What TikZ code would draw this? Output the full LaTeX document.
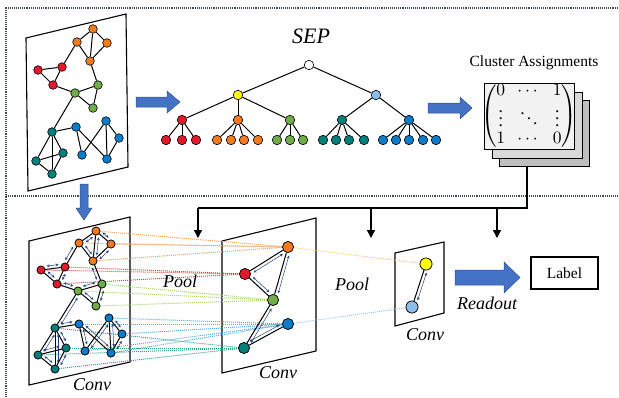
\documentclass[tikz,border=0pt]{standalone}
\usepackage{amsmath}
\usepackage{graphicx}
\usepackage{fontspec}
\setmainfont{Liberation Serif}
\usetikzlibrary{calc,arrows.meta}
\definecolor{cred}{HTML}{E41A2C}
\definecolor{corange}{HTML}{F37A1F}
\definecolor{cgreen}{HTML}{70AD47}
\definecolor{cteal}{HTML}{00807A}
\definecolor{cblue}{HTML}{0B7CCB}
\definecolor{cyellow}{HTML}{FFFF00}
\definecolor{clblue}{HTML}{8DBDE8}
\definecolor{barrow}{HTML}{4472C4}
\definecolor{barrowd}{HTML}{2F528F}
\definecolor{cnavy}{HTML}{24407F}
\definecolor{dorange}{HTML}{F5A05A}
\definecolor{dred}{HTML}{E8404A}
\definecolor{dgreen}{HTML}{A5D46A}
\definecolor{dblue}{HTML}{56A8E0}
\definecolor{dteal}{HTML}{2E9E96}
\definecolor{dyellow}{HTML}{F2D16B}
\definecolor{dlblue}{HTML}{9DC8EC}
\definecolor{card1}{HTML}{F2F2F2}
\definecolor{card2}{HTML}{D9D9D9}
\definecolor{card3}{HTML}{BFBFBF}
\definecolor{bord}{HTML}{404A55}
\tikzset{
 nd/.style={circle,draw=black,line width=0.6pt,inner sep=0pt,minimum size=8.6pt},
 sn/.style={nd,minimum size=8pt},
 mn/.style={nd,minimum size=11pt},
 tn/.style={nd,minimum size=9.5pt},
 edge/.style={line width=1pt,black},
 dar/.style={cnavy,line width=0.5pt,{Stealth[length=3pt,width=2.8pt]}-{Stealth[length=3pt,width=2.8pt]}},
 dl/.style={densely dotted,line width=1pt},
 panel/.style={line width=1.1pt},
 conn/.style={line width=1.3pt},
 barr/.style={fill=barrow,draw=barrowd,line width=0.5pt},
 lbl/.style={font=\fontsize{18}{20}\selectfont\itshape},
 card/.style={draw=black,line width=0.6pt,minimum width=90pt,minimum height=66pt,inner sep=0pt},
 brd/.style={bord,densely dotted,line width=1.1pt}
}
\newcommand\dlink[3][6pt]{\draw[edge] (#2) -- (#3); \draw[dar] ($(#2.center)!#1!(#3.center)!3.2pt!90:(#3.center)$) -- ($(#3.center)!#1!(#2.center)!3.2pt!-90:(#2.center)$);}
\begin{document}
\begin{tikzpicture}[x=1pt,y=-1pt]
\useasboundingbox (0,0) rectangle (619,397);
% borders
\draw[brd] (6,397) -- (6,8) -- (619,8);
\draw[brd] (6,196) -- (619,196);

% ---------- top-left graph ----------
\draw[panel] (26,38) -- (126,14) -- (128,167) -- (28,191) -- cycle;
\node[nd,fill=corange] (ao1) at (93,29) {};
\node[nd,fill=corange] (ao2) at (77,42) {};
\node[nd,fill=corange] (ao3) at (107,43) {};
\node[nd,fill=corange] (ao4) at (90,61) {};
\node[nd,fill=cred] (ar1) at (38,70) {};
\node[nd,fill=cred] (ar2) at (62,67) {};
\node[nd,fill=cred] (ar3) at (53,85) {};
\node[nd,fill=cgreen] (ag1) at (75,93) {};
\node[nd,fill=cgreen] (ag2) at (98,85) {};
\node[nd,fill=cgreen] (ag3) at (93,108) {};
\node[nd,fill=cteal] (at1) at (52,132) {};
\node[nd,fill=cteal] (at2) at (36,161) {};
\node[nd,fill=cteal] (at3) at (63,153) {};
\node[nd,fill=cteal] (at4) at (52,174) {};
\node[nd,fill=cblue] (ab1) at (76,127) {};
\node[nd,fill=cblue] (ab2) at (106,121) {};
\node[nd,fill=cblue] (ab3) at (119,138) {};
\node[nd,fill=cblue] (ab4) at (82,155) {};
\node[nd,fill=cblue] (ab5) at (107,159) {};
\foreach \a/\b in {ao1/ao2,ao1/ao3,ao1/ao4,ao2/ao4,ao3/ao4,ar2/ao2,ar1/ar2,ar1/ar3,ar2/ar3,
  ar3/ag1,ag1/ag2,ag1/ag3,ag2/ag3,ag2/ao4,ag1/at1,at1/at2,at1/at3,at1/at4,at2/at3,at2/at4,at3/at4,
  at1/ab1,ab1/ab4,ab1/ab5,ab2/ab4,ab2/ab5,ab2/ab3,ab3/ab5}
  \draw[edge] (\a) -- (\b);

% arrow to tree
\draw[barr] (136,97) -- (167,97) -- (167,91) -- (180,102) -- (167,113) -- (167,107) -- (136,107) -- cycle;

% ---------- tree ----------
\node[font=\fontsize{22}{26}\selectfont\itshape] (sep) at (311,36) {SEP};
\node[tn,fill=white] (root) at (309,65) {};
\node[tn,fill=cyellow] (ty) at (238,95) {};
\node[tn,fill=clblue] (tb) at (376,95) {};
\node[tn,fill=cred] (tr) at (182,120) {};
\node[tn,fill=corange] (to) at (238,120) {};
\node[tn,fill=cgreen] (tg) at (290,120) {};
\node[tn,fill=cteal] (tt) at (342,120) {};
\node[tn,fill=cblue] (tbb) at (409,120) {};
\draw[edge] (root) -- (ty); \draw[edge] (root) -- (tb);
\foreach \c in {tr,to,tg} \draw[edge] (ty) -- (\c);
\foreach \c in {tt,tbb} \draw[edge] (tb) -- (\c);
\foreach \x [count=\i] in {166,182,196} {\node[tn,fill=cred] (lr\i) at (\x,140) {}; \draw[edge] (tr) -- (lr\i);}
\foreach \x [count=\i] in {217,231,244,258} {\node[tn,fill=corange] (lo\i) at (\x,140) {}; \draw[edge] (to) -- (lo\i);}
\foreach \x [count=\i] in {277,290,303} {\node[tn,fill=cgreen] (lg\i) at (\x,140) {}; \draw[edge] (tg) -- (lg\i);}
\foreach \x [count=\i] in {323,336,349,364} {\node[tn,fill=cteal] (lt\i) at (\x,140) {}; \draw[edge] (tt) -- (lt\i);}
\foreach \x [count=\i] in {383,396,409,423,436} {\node[tn,fill=cblue] (lb\i) at (\x,140) {}; \draw[edge] (tbb) -- (lb\i);}

% arrow to matrix
\draw[barr] (428,103) -- (460,103) -- (460,97) -- (472,108) -- (460,119) -- (460,113) -- (428,113) -- cycle;

% ---------- cluster assignments ----------
\node[font=\fontsize{15.5}{18}\selectfont] (ca) at (534,63) {Cluster Assignments};
\node[card,fill=card3] (c3) at (544.5,133.5) {};
\node[card,fill=card2] (c2) at (537,125.5) {};
\node[card,fill=card1] (c1) at (529,116) {};
\node[inner sep=0pt] (mat) at (529,116)
  {\scalebox{1.75}{\renewcommand{\arraystretch}{0.8}\setlength{\arraycolsep}{3.5pt}$\begin{pmatrix}0&\cdots&1\\ \vdots&\ddots&\vdots\\ 1&\cdots&0\end{pmatrix}$}};

% connectors
\coordinate (cs) at (527,167);
\coordinate (jR) at (527,208);
\coordinate (jL) at (198,208);
\coordinate (j2) at (371,208);
\coordinate (j3) at (497,208);
\coordinate (tL) at (198,238);
\coordinate (t2) at (371,238);
\coordinate (t3) at (497,238);
\draw[conn] (cs) -- (jR) -- (jL);
\draw[conn,-{Triangle[length=8pt,width=8pt]}] (jL) -- (tL);
\draw[conn,-{Triangle[length=8pt,width=8pt]}] (j2) -- (t2);
\draw[conn,-{Triangle[length=8pt,width=8pt]}] (j3) -- (t3);

% down arrow
\draw[barr] (80,184) -- (88,184) -- (88,208) -- (92,208) -- (84,220) -- (76,208) -- (80,208) -- cycle;

% ---------- bottom panels ----------
\draw[panel] (29,241) -- (130,217) -- (130,362) -- (29,385) -- cycle;
\draw[panel] (222,241) -- (316,218) -- (316,351) -- (222,373) -- cycle;
\draw[panel] (395,253) -- (444,242) -- (444,313) -- (395,326) -- cycle;

% left graph nodes
\node[sn,fill=corange] (bo1) at (96,231) {};
\node[sn,fill=corange] (bo2) at (79,243) {};
\node[sn,fill=corange] (bo3) at (111,244) {};
\node[sn,fill=corange] (bo4) at (93,261) {};
\node[sn,fill=cred] (br1) at (41,270) {};
\node[sn,fill=cred] (br2) at (65,267) {};
\node[sn,fill=cred] (br3) at (57,284) {};
\node[sn,fill=cgreen] (bg1) at (78,291) {};
\node[sn,fill=cgreen] (bg2) at (102,284) {};
\node[sn,fill=cgreen] (bg3) at (96,306) {};
\node[sn,fill=cteal] (bt1) at (55,328) {};
\node[sn,fill=cteal] (bt2) at (38,355) {};
\node[sn,fill=cteal] (bt3) at (66,348) {};
\node[sn,fill=cteal] (bt4) at (55,369) {};
\node[sn,fill=cblue] (bb1) at (79,324) {};
\node[sn,fill=cblue] (bb2) at (109,318) {};
\node[sn,fill=cblue] (bb3) at (122,334) {};
\node[sn,fill=cblue] (bb4) at (85,351) {};
\node[sn,fill=cblue] (bb5) at (111,353) {};

% middle nodes
\node[mn,fill=corange] (mo) at (288,247) {};
\node[mn,fill=cred] (mr) at (245,274) {};
\node[mn,fill=cgreen] (mg) at (273,300) {};
\node[mn,fill=cblue] (mb) at (288,324) {};
\node[mn,fill=cteal] (mt) at (244,348) {};

% right nodes
\node[nd,minimum size=12pt,fill=cyellow] (ry) at (426,264) {};
\node[nd,minimum size=12pt,fill=clblue] (rb) at (412,307) {};

% dotted pooling lines
\foreach \n in {bo1,bo2,bo3,bo4} \draw[dl,dorange] (\n) -- (mo);
\foreach \n in {br1,br2,br3} \draw[dl,dred] (\n) -- (mr);
\foreach \n in {bg1,bg2,bg3} \draw[dl,dgreen] (\n) -- (mg);
\foreach \n in {bb1,bb2,bb3,bb4,bb5} \draw[dl,dblue] (\n) -- (mb);
\foreach \n in {bt1,bt2,bt3,bt4} \draw[dl,dteal] (\n) -- (mt);
\draw[dl,dyellow] (mo) -- (ry);
\draw[dl,dlblue] (mb) -- (rb);

% left edges with message arrows
\foreach \a/\b in {bo1/bo2,bo1/bo3,bo1/bo4,bo2/bo4,bo3/bo4,br2/bo2,br1/br2,br1/br3,br2/br3,
  br3/bg1,bg1/bg2,bg1/bg3,bg2/bg3,bg2/bo4,bg1/bt1,bt1/bt2,bt1/bt3,bt1/bt4,bt2/bt3,bt2/bt4,bt3/bt4,
  bt1/bb1,bb1/bb4,bb1/bb5,bb2/bb4,bb2/bb5,bb2/bb3,bb3/bb5}
  {\dlink{\a}{\b}}
% redraw nodes over dotted lines
\foreach \n/\c in {bo1/corange,bo2/corange,bo3/corange,bo4/corange,br1/cred,br2/cred,br3/cred,
  bg1/cgreen,bg2/cgreen,bg3/cgreen,bt1/cteal,bt2/cteal,bt3/cteal,bt4/cteal,
  bb1/cblue,bb2/cblue,bb3/cblue,bb4/cblue,bb5/cblue}
  \node[sn,fill=\c] at (\n) {};

% middle edges
\foreach \a/\b in {mo/mr,mo/mg,mr/mg,mg/mt,mt/mb} {\dlink[8pt]{\a}{\b}}
\foreach \n/\c in {mo/corange,mr/cred,mg/cgreen,mb/cblue,mt/cteal} \node[mn,fill=\c] at (\n) {};

% right edge
\dlink[8pt]{ry}{rb}
\node[nd,minimum size=12pt,fill=cyellow] at (ry) {};
\node[nd,minimum size=12pt,fill=clblue] at (rb) {};

% readout
\draw[barr] (455,270) -- (504,270) -- (504,262) -- (520,277.5) -- (504,293) -- (504,285) -- (455,285) -- cycle;
\node[draw,line width=1.6pt,minimum width=67pt,minimum height=32pt,inner sep=0pt,font=\fontsize{15.5}{18}\selectfont] (lab) at (564.5,273) {Label};

% labels
\node[lbl] (pool1) at (180,281) {Pool};
\node[lbl] (pool2) at (352,284) {Pool};
\node[lbl] (conv1) at (92,385) {Conv};
\node[lbl] (conv2) at (278,373) {Conv};
\node[lbl] (conv3) at (425,335) {Conv};
\node[lbl] (ro) at (487,303) {Readout};
\end{tikzpicture}
\end{document}
